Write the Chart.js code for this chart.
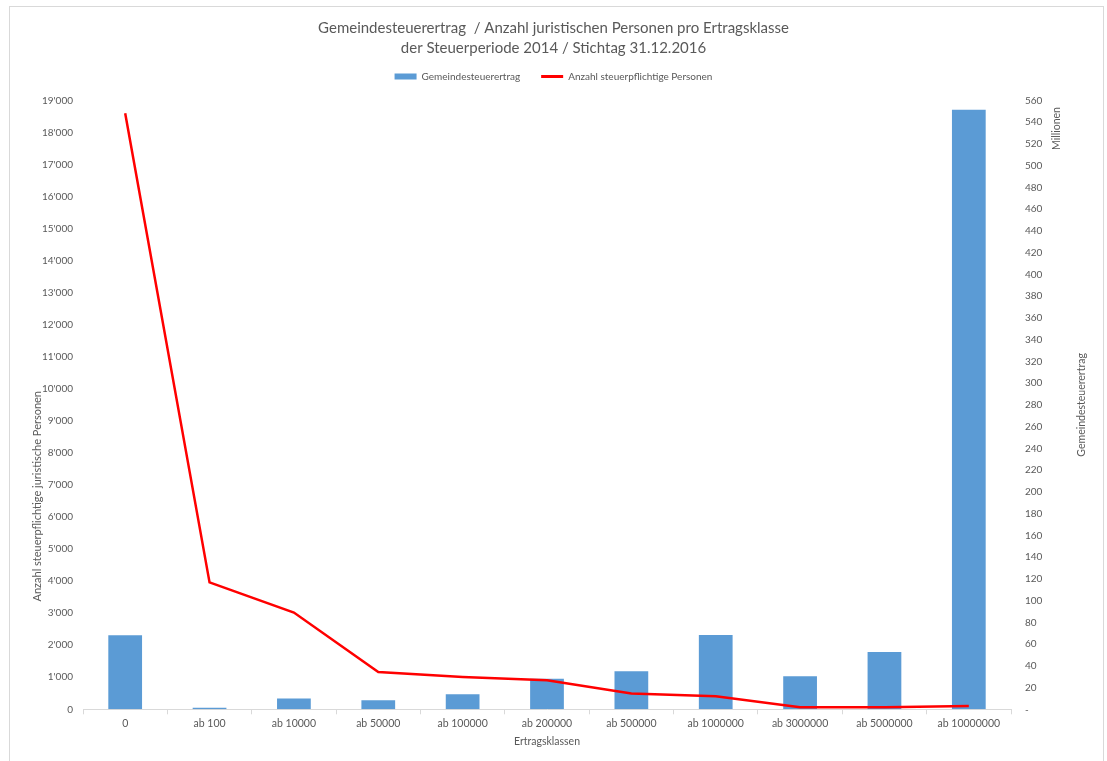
<!DOCTYPE html>
<html>
<head>
<meta charset="utf-8">
<script src="https://cdn.jsdelivr.net/npm/chart.js@4"></script>
<style>
  html, body { margin: 0; padding: 0; background: #fff; }
  #frame { position: absolute; left: 9px; top: 6px; width: 1093px; height: 800px; border: 1px solid #d9d9d9; }
  #wrap { position: absolute; left: 0; top: 0; width: 1107px; height: 761px; }
</style>
</head>
<body>
<div id="frame"></div>
<div id="wrap"><canvas id="chart"></canvas></div>
<script>
// Ertragsklassen
const categories = ["0", "ab 100", "ab 10000", "ab 50000", "ab 100000", "ab 200000",
  "ab 500000", "ab 1000000", "ab 3000000", "ab 5000000", "ab 10000000"];
// Gemeindesteuerertrag in Millionen (rechte Achse)
const ertragMio = [68, 1.5, 10, 8.3, 13.8, 28.2, 35, 68.3, 30.3, 52.7, 551.4];
// Anzahl steuerpflichtige Personen (linke Achse)
const personen = [18600, 3960, 3020, 1165, 1010, 905, 490, 405, 65, 65, 100];

const titleLines = [
  "Gemeindesteuerertrag  / Anzahl juristischen Personen pro Ertragsklasse",
  "der Steuerperiode 2014 / Stichtag 31.12.2016"
];

const grey = "#595959";
const font = "Lato";

const fmtThousands = (v) => String(v).replace(/\B(?=(\d{3})+(?!\d))/g, "'");

// rotated axis texts like in Excel (reading bottom to top)
const axisTexts = {
  id: "axisTexts",
  afterDraw(chart) {
    const { ctx, chartArea } = chart;
    const h = chartArea.bottom - chartArea.top;
    const rot = (text, x, y, size) => {
      ctx.save();
      ctx.translate(x, y);
      ctx.rotate(-Math.PI / 2);
      ctx.font = size + "px " + font;
      ctx.fillStyle = grey;
      ctx.textAlign = "center";
      ctx.textBaseline = "middle";
      ctx.fillText(text, 0, 0);
      ctx.restore();
    };
    rot("Anzahl steuerpflichtige juristische Personen", chartArea.left - 46, chartArea.top + h * 0.65, 11);
    rot("Millionen", chartArea.right + 46, chartArea.top + 28, 10.5);
    rot("Gemeindesteuerertrag", chartArea.right + 71, chartArea.top + h * 0.5, 10.5);
  }
};

new Chart(document.getElementById("chart"), {
  data: {
    labels: categories,
    datasets: [
      {
        type: "bar",
        label: "Gemeindesteuerertrag",
        data: ertragMio,
        backgroundColor: "#5b9bd5",
        yAxisID: "yR",
        order: 1,
        barPercentage: 0.4,
        categoryPercentage: 1
      },
      {
        type: "line",
        label: "Anzahl steuerpflichtige Personen",
        data: personen,
        borderColor: "#ff0000",
        backgroundColor: "#ff0000",
        borderWidth: 2.5,
        pointRadius: 0,
        tension: 0,
        yAxisID: "yL",
        order: 0
      }
    ]
  },
  options: {
    responsive: true,
    maintainAspectRatio: false,
    animation: false,
    layout: { padding: { left: 0, right: 0, top: 0, bottom: 13 } },
    plugins: {
      tooltip: { enabled: false },
      title: {
        display: true,
        text: titleLines,
        color: grey,
        font: { family: font, size: 15, weight: "normal", lineHeight: 1.33 },
        padding: { top: 18, bottom: -7.4 }
      },
      // empty spacer between legend and plot area
      subtitle: {
        display: true,
        text: "",
        weight: 500,
        font: { size: 1, lineHeight: 1 },
        padding: { top: 0, bottom: 8 }
      },
      legend: {
        position: "top",
        labels: {
          color: grey,
          font: { family: font, size: 10 },
          usePointStyle: true,
          pointStyleWidth: 22,
          boxHeight: 6,
          padding: 21,
          generateLabels(chart) {
            return chart.data.datasets.map((ds, i) => ({
              text: ds.label,
              datasetIndex: i,
              fillStyle: ds.type === "line" ? ds.borderColor : ds.backgroundColor,
              strokeStyle: ds.type === "line" ? ds.borderColor : ds.backgroundColor,
              lineWidth: ds.type === "line" ? 3 : 0,
              pointStyle: ds.type === "line" ? "line" : "rect",
              fontColor: grey,
              hidden: false
            }));
          }
        }
      }
    },
    scales: {
      x: {
        grid: { display: true, drawOnChartArea: false, drawTicks: true, tickLength: 5, color: "#d9d9d9", offset: true },
        border: { display: true, color: "#d9d9d9" },
        ticks: { color: grey, font: { family: font, size: 10.5 }, padding: 3, maxRotation: 0 },
        title: { display: true, text: "Ertragsklassen", color: grey, font: { family: font, size: 10.5 }, padding: { top: 2.5, bottom: 0 } }
      },
      yL: {
        position: "left",
        min: 0,
        max: 19000,
        grid: { display: false, drawTicks: false },
        border: { display: false },
        ticks: { stepSize: 1000, color: grey, font: { family: font, size: 10 }, padding: 10, callback: (v) => fmtThousands(v) },
        afterFit(scale) { scale.width = 83; }
      },
      yR: {
        position: "right",
        min: 0,
        max: 560,
        grid: { display: false, drawTicks: false },
        border: { display: false },
        ticks: { stepSize: 20, color: grey, font: { family: font, size: 10 }, padding: 14, callback: (v) => (v === 0 ? "-" : v) },
        afterFit(scale) { scale.width = 96; }
      }
    }
  },
  plugins: [axisTexts]
});
</script>
</body>
</html>
